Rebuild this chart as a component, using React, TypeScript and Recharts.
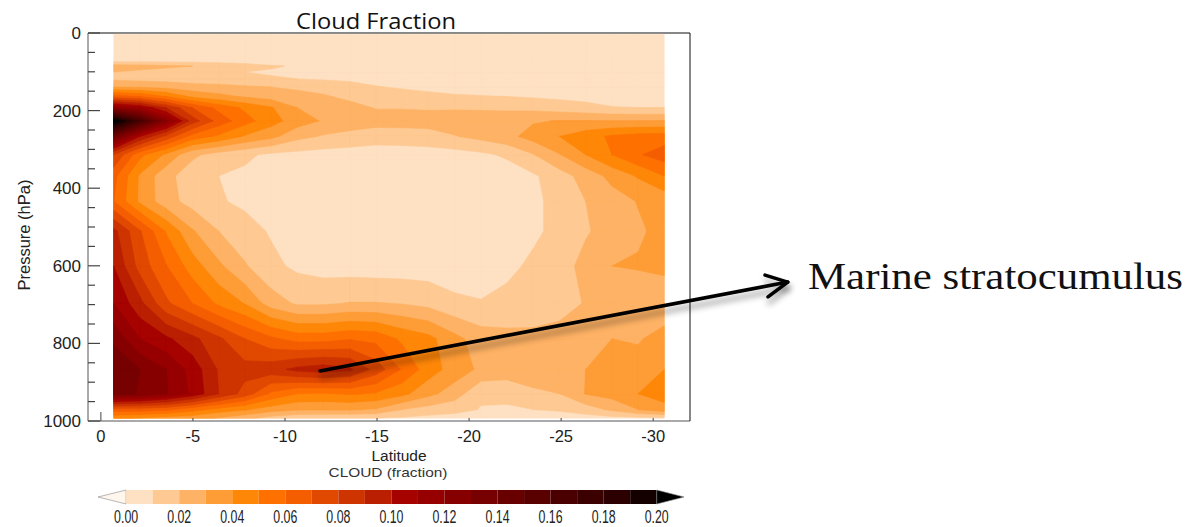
import { Bar, BarChart, ReferenceLine, Scatter, ScatterChart, XAxis, YAxis } from "recharts";

const latitudes = [-0.7, -2.12, -3.55, -4.97, -6.4, -7.82, -9.24, -10.67, -12.09, -13.52, -14.94, -16.36, -17.79, -19.21, -20.64, -22.06, -23.48, -24.91, -26.33, -27.76, -29.18, -30.6];
const pressures = [3.5, 70, 85.4, 100.5, 118.3, 139.1, 163.7, 192.5, 226.5, 266.5, 313.5, 368.8, 433.9, 510.5, 600.5, 696.8, 787.7, 867.2, 929.6, 970.6, 992.6];

// cloud fraction in hundredths, one list per pressure level
const cloud3 = [0.3, 0.3, 0.3, 0.3, 0.3, 0.3, 0.3, 0.3, 0.3, 0.3, 0.3, 0.3, 0.3, 0.3, 0.3, 0.3, 0.3, 0.3, 0.3, 0.3, 0.3, 0.3];
const cloud70 = [0.5, 0.5, 0.5, 0.5, 0.5, 0.45, 0.4, 0.4, 0.4, 0.4, 0.4, 0.4, 0.4, 0.4, 0.4, 0.4, 0.4, 0.4, 0.4, 0.4, 0.4, 0.4];
const cloud85 = [2.5, 2.4, 2.2, 2.0, 1.7, 1.4, 1.1, 0.9, 0.7, 0.6, 0.5, 0.5, 0.5, 0.5, 0.5, 0.5, 0.5, 0.5, 0.5, 0.5, 0.5, 0.5];
const cloud100 = [2.0, 1.8, 1.6, 1.4, 1.2, 1.0, 0.9, 0.8, 0.7, 0.6, 0.5, 0.5, 0.5, 0.5, 0.5, 0.5, 0.5, 0.5, 0.5, 0.5, 0.5, 0.5];
const cloud118 = [1.8, 1.7, 1.6, 1.5, 1.4, 1.2, 1.1, 1.0, 0.9, 0.8, 0.7, 0.7, 0.6, 0.6, 0.5, 0.5, 0.5, 0.5, 0.5, 0.5, 0.5, 0.5];
const cloud139 = [3.0, 2.9, 2.7, 2.4, 2.3, 2.15, 2.0, 1.9, 1.7, 1.4, 1.05, 0.9, 0.8, 0.7, 0.6, 0.5, 0.5, 0.5, 0.5, 0.5, 0.5, 0.5];
const cloud164 = [6.5, 6, 5, 3.8, 3.3, 2.9, 2.6, 2.2, 2.1, 1.8, 1.6, 1.4, 1.2, 1.1, 1.05, 1.0, 0.9, 0.8, 0.7, 0.6, 0.6, 0.6];
const cloud193 = [12, 11, 9, 7, 5.7, 4.8, 4.1, 3.0, 2.7, 2.3, 1.95, 1.95, 1.9, 1.9, 1.85, 1.8, 1.7, 1.5, 1.3, 1.05, 1.0, 1.0];
const cloud227 = [21, 16.5, 12.3, 8.5, 6.6, 5.4, 4.4, 3.5, 2.9, 2.6, 2.4, 2.4, 2.4, 2.5, 2.6, 2.6, 2.9, 3.05, 3.05, 3.0, 3.0, 3.05];
const cloud267 = [14, 10, 7.7, 5.6, 4.8, 3.9, 3.3, 2.3, 1.9, 1.65, 1.45, 1.5, 1.6, 1.95, 2.3, 2.7, 3.4, 4.0, 4.6, 5.15, 5.4, 5.5];
const cloud314 = [8, 5.3, 3.8, 2.2, 1.6, 1.2, 0.8, 0.7, 0.6, 0.55, 0.5, 0.5, 0.55, 0.6, 0.8, 1.15, 1.95, 2.95, 4.0, 5.0, 5.9, 6.5];
const cloud369 = [6.3, 3.85, 2.3, 1.45, 1.0, 0.8, 0.6, 0.5, 0.4, 0.4, 0.4, 0.4, 0.4, 0.4, 0.4, 0.5, 0.85, 1.55, 2.4, 3.3, 4.1, 5.0];
const cloud434 = [6, 3.8, 2.4, 1.6, 1.1, 0.8, 0.6, 0.4, 0.4, 0.4, 0.4, 0.4, 0.4, 0.4, 0.4, 0.5, 0.8, 1.3, 2.0, 2.55, 3.05, 3.3];
const cloud510 = [9.3, 7.1, 4.9, 3.1, 2.0, 1.4, 0.9, 0.7, 0.6, 0.5, 0.4, 0.4, 0.4, 0.4, 0.5, 0.6, 0.8, 1.3, 1.9, 2.4, 2.85, 3.3];
const cloud600 = [10, 7.6, 6.05, 4.5, 3.2, 2.1, 1.25, 0.8, 0.6, 0.55, 0.5, 0.5, 0.5, 0.5, 0.6, 0.75, 1.2, 1.6, 2.3, 3.0, 3.1, 3.25];
const cloud697 = [11, 9.3, 7.2, 6, 4.8, 3.95, 2.5, 1.85, 1.85, 2.05, 2.05, 1.95, 1.7, 1.2, 1.05, 1.3, 1.45, 1.7, 2.05, 2.2, 2.2, 2.3];
const cloud788 = [12.8, 11, 10.2, 9.3, 8.2, 7, 6.2, 5.6, 5.6, 5.9, 5.7, 4.8, 4.3, 3.3, 2.5, 2.3, 2.25, 2.3, 2.45, 3.0, 2.9, 3.4];
const cloud867 = [13.8, 13, 12, 10.6, 8.9, 8.4, 8.6, 9.3, 9.6, 9.2, 7.6, 5.9, 4.5, 3.55, 2.8, 2.6, 2.6, 2.7, 3.0, 3.2, 3.4, 4.0];
const cloud930 = [13.5, 12.9, 12.1, 10.8, 9, 7.6, 5.8, 5, 4.9, 5.1, 4.9, 4.3, 3.3, 2.5, 1.15, 1.2, 1.8, 2, 3.05, 3.4, 4, 4.5];
const cloud971 = [6.5, 6.5, 6.2, 5.4, 4.6, 4.1, 3.5, 3.1, 3.1, 3.1, 2.9, 2.0, 1.6, 1.35, 0.95, 0.9, 1.0, 1.1, 1.5, 2.2, 3, 3.6];
const cloud993 = [4.2, 3.9, 3.6, 3.4, 2.9, 2.3, 1.6, 1.2, 1.1, 1.1, 1.0, 0.9, 0.7, 0.6, 0.5, 0.5, 0.5, 0.6, 0.6, 0.7, 0.8, 0.9];

const cloudRows = [cloud3, cloud70, cloud85, cloud100, cloud118, cloud139, cloud164, cloud193, cloud227, cloud267, cloud314, cloud369, cloud434, cloud510, cloud600, cloud697, cloud788, cloud867, cloud930, cloud971, cloud993];

const bandColors = ["#fee0c2", "#fec992", "#feb265", "#fe9c36", "#fe8708", "#fe7000", "#f55e00", "#e14900", "#cd3400", "#b91f00", "#a50200", "#960000", "#870000", "#770000", "#680000", "#590000", "#4a0000", "#3b0000", "#2c0000", "#150000", "#000000"];

const latTicks = [0, -5, -10, -15, -20, -25, -30];
const pressureTicks = [0, 50, 100, 150, 200, 250, 300, 350, 400, 450, 500, 550, 600, 650, 700, 750, 800, 850, 900, 950, 1000];
const barTicks = [0, 0.02, 0.04, 0.06, 0.08, 0.1, 0.12, 0.14, 0.16, 0.18, 0.2];

const arrowShaft = [{ lat: -11.9, p: 871 }, { lat: -37.3, p: 642 }];
const arrowHead = [{ lat: -36.07, p: 624 }, { lat: -37.3, p: 642 }, { lat: -36.23, p: 680 }];

type Corner = { lat: number; p: number; v: number };

// part of one grid cell that lies above a contour level
const clipCell = (corners: Corner[], level: number) => {
  const out: { lat: number; p: number }[] = [];
  corners.forEach((a, i) => {
    const b = corners[(i + 1) % corners.length];
    if (a.v >= level) out.push({ lat: a.lat, p: a.p });
    if (a.v >= level !== b.v >= level) {
      const t = (level - a.v) / (b.v - a.v);
      out.push({ lat: a.lat + t * (b.lat - a.lat), p: a.p + t * (b.p - a.p) });
    }
  });
  return out;
};

const contourLayers = bandColors.map((color, level) => {
  const points: { lat: number; p: number }[] = [];
  const sizes: number[] = [];
  for (let r = 0; r < pressures.length - 1; r++) {
    for (let c = 0; c < latitudes.length - 1; c++) {
      const corner = (rr: number, cc: number) => ({ lat: latitudes[cc], p: pressures[rr], v: cloudRows[rr][cc] });
      const poly = clipCell([corner(r, c), corner(r, c + 1), corner(r + 1, c + 1), corner(r + 1, c)], level);
      if (poly.length > 2) {
        points.push(...poly);
        sizes.push(poly.length);
      }
    }
  }
  return { color, level, points, sizes };
});

const Nothing = () => <g />;

const contourPath = (color: string, sizes: number[]) => (props: any) => {
  let d = "";
  let i = 0;
  sizes.forEach((n) => {
    for (let k = 0; k < n; k++) {
      const pt = props.points[i + k];
      d += `${k === 0 ? "M" : "L"}${pt.x} ${pt.y}`;
    }
    d += "Z";
    i += n;
  });
  return <path d={d} fill={color} stroke={color} strokeWidth={0.5} />;
};

const arrowLine = (props: any) => (
  <polyline
    points={props.points.map((pt: any) => `${pt.x},${pt.y}`).join(" ")}
    fill="none"
    stroke="#000"
    strokeWidth={3.6}
    strokeLinecap="round"
    strokeLinejoin="round"
    style={{ filter: "drop-shadow(1px 6px 3px rgba(0,0,0,0.4))" }}
  />
);

const LeftTick = ({ x, y, payload }: any) => {
  const major = payload.value % 200 === 0;
  return (
    <g>
      <line x1={x} x2={x + (major ? 12 : 7)} y1={y} y2={y} stroke="#444" strokeWidth={1.2} />
      {major && (
        <text x={x - 7} y={y + 6} textAnchor="end" fontSize={17} fill="#222" fontFamily="Liberation Sans">
          {payload.value}
        </text>
      )}
    </g>
  );
};

const RightTick = ({ x, y, payload }: any) => {
  const major = payload.value % 200 === 0;
  return <line x1={x} x2={x - (major ? 12 : 6)} y1={y} y2={y} stroke="#444" strokeWidth={1.2} />;
};

const BottomTick = ({ x, y, payload }: any) => (
  <g>
    <line x1={x} x2={x} y1={y} y2={y - (payload.value === 0 ? 9 : 3)} stroke="#444" />
    <text x={x} y={y + 21} textAnchor="middle" fontSize={16.5} fill="#222" fontFamily="Liberation Sans">
      {payload.value}
    </text>
  </g>
);

const TopTick = ({ x, y, payload }: any) => (
  <line x1={x} x2={x} y1={y} y2={y + (payload.value === 0 ? 8 : 2)} stroke="#444" />
);

const BarTick = ({ x, y, payload }: any) => (
  <text
    x={x}
    y={y + 19}
    textAnchor="middle"
    fontSize={19}
    fill="#222"
    fontFamily="Liberation Sans"
    textLength={24}
    lengthAdjust="spacingAndGlyphs"
  >
    {payload.value.toFixed(2)}
  </text>
);

const Triangle = ({ x, y, width, height, fill }: any) => (
  <polygon
    points={`${x},${y} ${x + width},${y + height / 2} ${x},${y + height}`}
    fill={fill}
    stroke="#888"
    strokeWidth={0.6}
  />
);

const barRow = [
  {
    name: "scale",
    under: -0.0106,
    over: 0.0104,
    ...Object.fromEntries(bandColors.slice(0, 20).map((_, i) => [`b${i}`, 0.01])),
  },
];

const App = () => (
  <div style={{ position: "absolute", left: 0, top: 0, width: 1194, height: 527 }}>
    <ScatterChart width={1194} height={527} margin={{ top: 0, right: 0, bottom: 0, left: 0 }}>
      <XAxis
        dataKey="lat"
        type="number"
        domain={[-32, 0.7]}
        reversed
        ticks={latTicks}
        interval={0}
        height={106}
        tickSize={0}
        tickMargin={0}
        tick={BottomTick}
        stroke="#555"
      />
      <XAxis
        xAxisId="top"
        orientation="top"
        type="number"
        domain={[-32, 0.7]}
        reversed
        ticks={latTicks}
        interval={0}
        height={33}
        tickSize={0}
        tickMargin={0}
        tick={TopTick}
        stroke="#111"
      />
      <YAxis
        dataKey="p"
        type="number"
        domain={[0, 1000]}
        reversed
        ticks={pressureTicks}
        interval={0}
        width={88}
        tickSize={0}
        tickMargin={0}
        tick={LeftTick}
        stroke="#555"
      />
      <YAxis
        yAxisId="right"
        orientation="right"
        type="number"
        domain={[0, 1000]}
        reversed
        ticks={pressureTicks}
        interval={0}
        width={504}
        tickSize={0}
        tickMargin={0}
        tick={RightTick}
        stroke="#111"
      />
      {contourLayers.map((layer) => (
        <Scatter
          key={layer.level}
          name={`band ${layer.level}`}
          data={layer.points}
          shape={Nothing}
          line={contourPath(layer.color, layer.sizes)}
          lineType="joint"
          isAnimationActive={false}
        />
      ))}
      {latitudes.map((lat) => (
        <ReferenceLine key={lat} x={lat} stroke="#fff" strokeOpacity={0.2} />
      ))}
      {pressures.slice(1).map((p) => (
        <ReferenceLine key={p} y={p} stroke="#fff" strokeOpacity={0.2} />
      ))}
      <text x={376} y={29} textAnchor="middle" fontSize={22} fill="#111" fontFamily="Open Sans" textLength={160} lengthAdjust="spacingAndGlyphs">
        Cloud Fraction
      </text>
      <text x={399} y={461} textAnchor="middle" fontSize={15.5} fill="#222" fontFamily="Liberation Sans">
        Latitude
      </text>
      <text x={388} y={477} textAnchor="middle" fontSize={13.5} fill="#333" fontFamily="Liberation Sans" textLength={119} lengthAdjust="spacingAndGlyphs">
        CLOUD (fraction)
      </text>
      <text
        x={30}
        y={235}
        transform="rotate(-90 30 235)"
        textAnchor="middle"
        fontSize={16.5}
        fill="#222"
        fontFamily="Liberation Sans"
      >
        Pressure (hPa)
      </text>
      <text x={808} y={289} fontSize={38} fill="#111" fontFamily="Liberation Serif" textLength={375} lengthAdjust="spacingAndGlyphs">
        Marine stratocumulus
      </text>
    </ScatterChart>
    {/* arrow runs past the plot, so it gets its own wider set of axes on top */}
    <div style={{ position: "absolute", left: 0, top: 0 }}>
      <ScatterChart width={1194} height={527} margin={{ top: 33, right: 393.4, bottom: 106, left: 101 }}>
        <XAxis dataKey="lat" type="number" domain={[-38, 0]} reversed hide />
        <YAxis dataKey="p" type="number" domain={[0, 1000]} reversed hide />
        <Scatter name="arrow" data={arrowShaft} shape={Nothing} line={arrowLine} lineType="joint" isAnimationActive={false} />
        <Scatter name="arrow head" data={arrowHead} shape={Nothing} line={arrowLine} lineType="joint" isAnimationActive={false} />
      </ScatterChart>
    </div>
    <div style={{ position: "absolute", left: 97.7, top: 480 }}>
      <BarChart
        width={586.3}
        height={47}
        layout="vertical"
        data={barRow}
        stackOffset="sign"
        barCategoryGap={0}
        margin={{ top: 10, right: 0, bottom: 0, left: 0 }}
      >
        <XAxis
          type="number"
          domain={[-0.0106, 0.2104]}
          allowDataOverflow
          ticks={barTicks}
          interval={0}
          height={23}
          tickSize={0}
          tickMargin={0}
          tick={BarTick}
          axisLine={false}
        />
        <YAxis type="category" dataKey="name" hide />
        <Bar dataKey="under" stackId="scale" fill="#fff6ee" shape={Triangle} isAnimationActive={false} />
        {bandColors.slice(0, 20).map((color, i) => (
          <Bar key={color} dataKey={`b${i}`} stackId="scale" fill={color} isAnimationActive={false} />
        ))}
        <Bar dataKey="over" stackId="scale" fill="#000" shape={Triangle} isAnimationActive={false} />
      </BarChart>
    </div>
  </div>
);

export default App;
